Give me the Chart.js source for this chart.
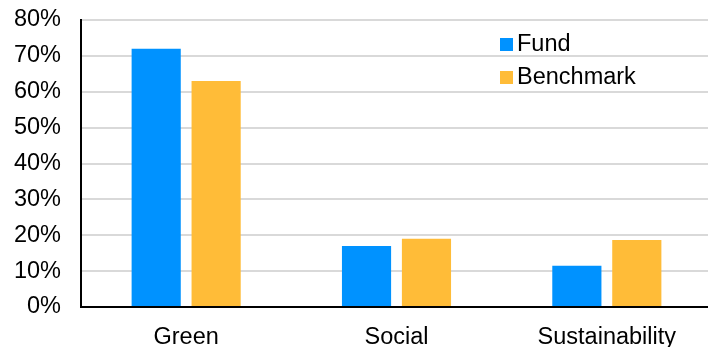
<!DOCTYPE html>
<html>
<head>
<meta charset="utf-8">
<script src="https://cdn.jsdelivr.net/npm/chart.js@4/dist/chart.umd.min.js"></script>
<style>
  html, body { margin: 0; padding: 0; background: #fff; overflow: hidden; }
  #wrap { width: 712px; height: 347px; }
</style>
</head>
<body>
<div id="wrap"><canvas id="chart" width="712" height="347"></canvas></div>
<script>
let categories = ["Green", "Social", "Sustainability"];
let fund = [72, 17, 11.5];
let benchmark = [63, 19, 18.7];
let seriesNames = ["Fund", "Benchmark"];
let colors = ["#0092ff", "#ffbc38"];

const font = { family: "'Liberation Sans', Arial, sans-serif", size: 23.5 };

// legend drawn inside the plot, top right
const insideLegend = {
  id: "insideLegend",
  afterDraw(chart) {
    let ctx = chart.ctx;
    ctx.save();
    ctx.font = font.size + "px " + font.family;
    ctx.textBaseline = "middle";
    ctx.textAlign = "left";
    chart.data.datasets.forEach((ds, i) => {
      let y = 45 + i * 33;
      ctx.fillStyle = ds.backgroundColor;
      ctx.fillRect(500, y - 7, 13, 13);
      ctx.fillStyle = "#000";
      ctx.fillText(ds.label, 517, y);
    });
    ctx.restore();
  }
};

new Chart(document.getElementById("chart"), {
  type: "bar",
  data: {
    labels: categories,
    datasets: [
      { label: seriesNames[0], data: fund, backgroundColor: colors[0] },
      { label: seriesNames[1], data: benchmark, backgroundColor: colors[1] }
    ]
  },
  options: {
    responsive: false,
    animation: false,
    layout: { padding: { top: 20, right: 0, bottom: 0, left: 0 } },
    datasets: { bar: { categoryPercentage: 0.57, barPercentage: 0.82 } },
    plugins: { legend: { display: false }, tooltip: { enabled: false } },
    scales: {
      x: {
        grid: { display: false, drawTicks: false },
        border: { color: "#000", width: 2 },
        ticks: { color: "#000", font: font, padding: 16, maxRotation: 0 },
        afterFit(s) { s.height = 40; }
      },
      y: {
        min: 0,
        max: 80,
        grid: { color: "#d9d9d9", lineWidth: 2, drawTicks: false },
        border: { color: "#000", width: 2 },
        ticks: {
          stepSize: 10,
          color: "#000",
          font: font,
          padding: 20,
          callback: v => v + "%"
        },
        afterFit(s) { s.width = 81; s.paddingTop = 0; s.paddingBottom = 0; }
      }
    }
  },
  plugins: [insideLegend]
});
</script>
</body>
</html>
